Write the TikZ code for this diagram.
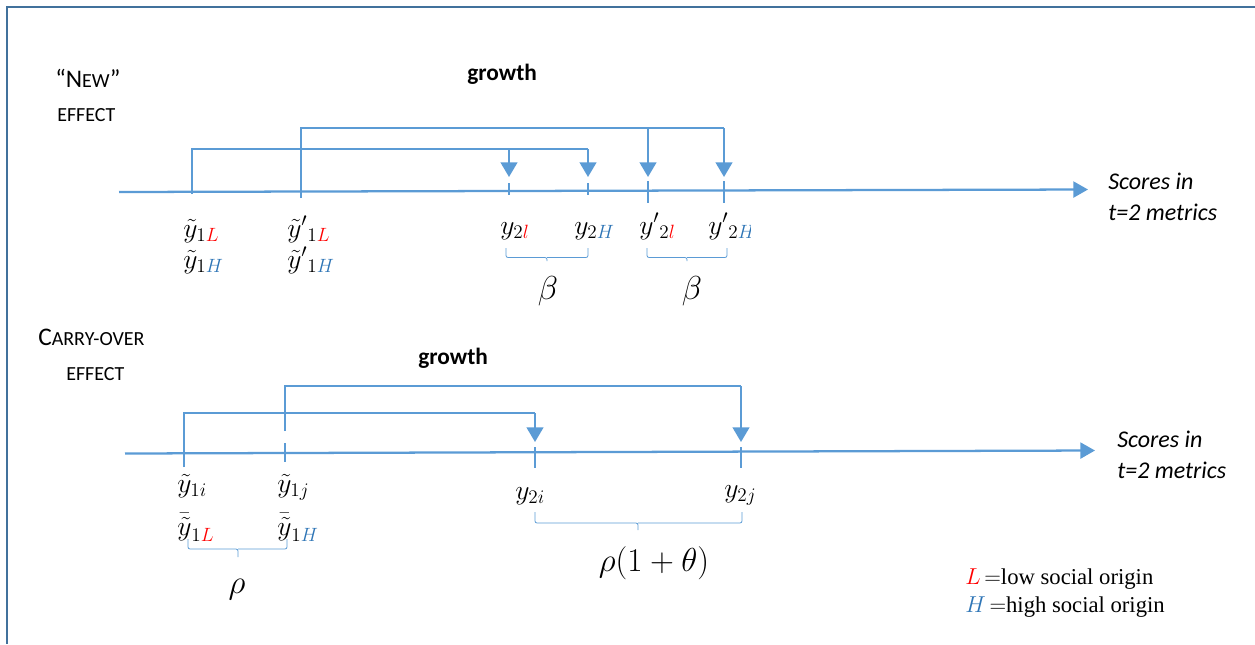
\documentclass[tikz,border=0pt]{standalone}
\usepackage{fontspec}
\setmainfont{Liberation Serif}
\newfontfamily\calibri{Carlito}
\usetikzlibrary{arrows.meta}
\definecolor{ob}{HTML}{5B9BD5}
\definecolor{frm}{HTML}{41719C}
\definecolor{hb}{HTML}{2E75B6}
\definecolor{lr}{HTML}{FF0000}
\newcommand{\Lr}{{\color{lr}L}}
\newcommand{\lr}{{\color{lr}l}}
\newcommand{\Hb}{{\color{hb}H}}
\begin{document}
\begin{tikzpicture}[x=0.75pt,y=-0.75pt,
  frame/.style={frm, line width=1.6pt},
  axis/.style={ob, line width=1.7pt, -{Triangle[length=11pt,width=12pt]}},
  brline/.style={ob, line width=0.8pt},
  arr/.style={ob, line width=1.7pt, -{Triangle[length=11pt,width=12.5pt]}},
  tickln/.style={ob, line width=0.8pt},
  brc/.style={ob, line width=0.6pt, rounded corners=1.5pt},
  mlab/.style={font=\fontsize{22.5}{26}\selectfont, inner sep=0pt, anchor=base west},
  mcen/.style={font=\fontsize{23.5}{28}\selectfont, inner sep=0pt},
  ttl/.style={font=\calibri\fontsize{19}{22}\selectfont, inner sep=0pt, anchor=base west},
  grw/.style={font=\calibri\bfseries\fontsize{17.5}{20}\selectfont, inner sep=0pt, anchor=base west},
  scr/.style={font=\calibri\itshape\fontsize{18}{21}\selectfont, inner sep=0pt, anchor=base west},
  leg/.style={font=\fontsize{17}{20}\selectfont, inner sep=0pt, anchor=base west}]
\useasboundingbox (0,0) rectangle (1255,644);
\draw[frame] (1255,7) -- (7,7) -- (7,644);

% ---------- "New" effect ----------
\node[ttl] (new) at (55,87) {“N{\fontsize{15}{18}\selectfont EW}”};
\node[ttl] (neweff) at (57,121) {\fontsize{15}{18}\selectfont EFFECT};
\node[grw] (growth1) at (467,80) {growth};

\coordinate (ax1s) at (119,192);
\coordinate (ax1e) at (1088,189.5);
\draw[axis] (ax1s) -- (ax1e);
\node[scr] (sc1a) at (1108,189) {Scores in};
\node[scr] (sc1b) at (1108,220) {t=2 metrics};

\coordinate (a1) at (192,194);  \coordinate (a1t) at (192,149);
\coordinate (b1) at (301,198);  \coordinate (b1t) at (301,128);
\coordinate (c1t) at (509,149); \coordinate (c1h) at (509,177);
\coordinate (c2t) at (588,149); \coordinate (c2h) at (588,177);
\coordinate (c3t) at (648,128); \coordinate (c3h) at (648,177);
\coordinate (c4t) at (724,128); \coordinate (c4h) at (724,177);
\coordinate (c1a) at (509,183); \coordinate (c1b) at (509,195);
\coordinate (c2a) at (588,183); \coordinate (c2b) at (588,195);
\coordinate (c3a) at (648,181); \coordinate (c3b) at (648,203);
\coordinate (c4a) at (724,181); \coordinate (c4b) at (724,203);

\draw[brline] (a1) -- (a1t) -- (c2t);
\draw[brline] (b1) -- (b1t) -- (c4t);
\draw[arr] (c1t) -- (c1h);
\draw[arr] (c2t) -- (c2h);
\draw[arr] (c3t) -- (c3h);
\draw[arr] (c4t) -- (c4h);
\draw[tickln] (c1a) -- (c1b);
\draw[tickln] (c2a) -- (c2b);
\draw[tickln] (c3a) -- (c3b);
\draw[tickln] (c4a) -- (c4b);

\node[mlab] (yL) at (183,237) {$\tilde{y}_{1\Lr}$};
\node[mlab] (yH) at (183,268) {$\tilde{y}_{1\Hb}$};
\node[mlab] (ypL) at (287,237) {$\tilde{y}'{}_{1\Lr}$};
\node[mlab] (ypH) at (287,268) {$\tilde{y}'{}_{1\Hb}$};
\node[mlab] (y2l) at (500,234) {$y_{2\lr}$};
\node[mlab] (y2H) at (574,234) {$y_{2\Hb}$};
\node[mlab] (yp2l) at (639,234) {$y'{}_{2\lr}$};
\begin{scope}
\clip (700,200) rectangle (750,250);
\node[mlab] (yp2H) at (708,234) {$y'{}_{2\Hb}$};
\end{scope}

\draw[brc] (506,248) |- (547,257.5) -- (547,261);
\draw[brc] (547,257.5) -| (588,248);
\draw[brc] (647,248) |- (687,257.5) -- (687,261);
\draw[brc] (687,257.5) -| (727,248);
\node[mcen] (beta1) at (548,291) {$\beta$};
\node[mcen] (beta2) at (692,291) {$\beta$};

% ---------- Carry-over effect ----------
\node[ttl] (carry) at (38,345) {C{\fontsize{15}{18}\selectfont ARRY-OVER}};
\node[ttl] (careff) at (66,380) {\fontsize{15}{18}\selectfont EFFECT};
\node[grw] (growth2) at (418,364) {growth};

\coordinate (ax2s) at (125,453.5);
\coordinate (ax2e) at (1095,450.5);
\draw[axis] (ax2s) -- (ax2e);
\node[scr] (sc2a) at (1117,447) {Scores in};
\node[scr] (sc2b) at (1117,478) {t=2 metrics};

\coordinate (d1) at (184,467);  \coordinate (d1t) at (184,413);
\coordinate (e1) at (285,431);  \coordinate (e1t) at (285,386);
\coordinate (e1a) at (285,443); \coordinate (e1b) at (285,462);
\coordinate (f1t) at (535,413); \coordinate (f1h) at (535,442);
\coordinate (g1t) at (741,386); \coordinate (g1h) at (741,442);
\coordinate (f1a) at (535,447); \coordinate (f1b) at (535,468);
\coordinate (g1a) at (741,447); \coordinate (g1b) at (741,468);

\draw[brline] (d1) -- (d1t) -- (f1t);
\draw[brline] (e1) -- (e1t) -- (g1t);
\draw[tickln] (e1a) -- (e1b);
\draw[arr] (f1t) -- (f1h);
\draw[arr] (g1t) -- (g1h);
\draw[tickln] (f1a) -- (f1b);
\draw[tickln] (g1a) -- (g1b);

\node[mlab] (y1i) at (177,492) {$\tilde{y}_{1i}$};
\node[mlab] (y1bL) at (177,535) {$\bar{\tilde{y}}_{1\Lr}$};
\node[mlab] (y1j) at (277,492) {$\tilde{y}_{1j}$};
\node[mlab] (y1bH) at (277,535) {$\bar{\tilde{y}}_{1\Hb}$};
\node[mlab] (y2i) at (515,499) {$y_{2i}$};
\node[mlab] (y2j) at (724,497) {$y_{2j}$};

\draw[brc] (188,539) |- (238,549) -- (238,557);
\draw[brc] (238,549) -| (287,539);
\draw[brc] (535,512) |- (638,523) -- (638,530);
\draw[brc] (638,523) -| (742,512);
\node[mcen] (rho) at (237,590) {$\rho$};
\node[mcen] (rhot) at (654,563) {$\rho(1+\theta)$};

% ---------- legend ----------
\node[leg] (legL) at (965,584) {$\Lr$\,$=$low social origin};
\node[leg] (legH) at (965,612) {$\Hb$\,$=$high social origin};
\end{tikzpicture}
\end{document}
